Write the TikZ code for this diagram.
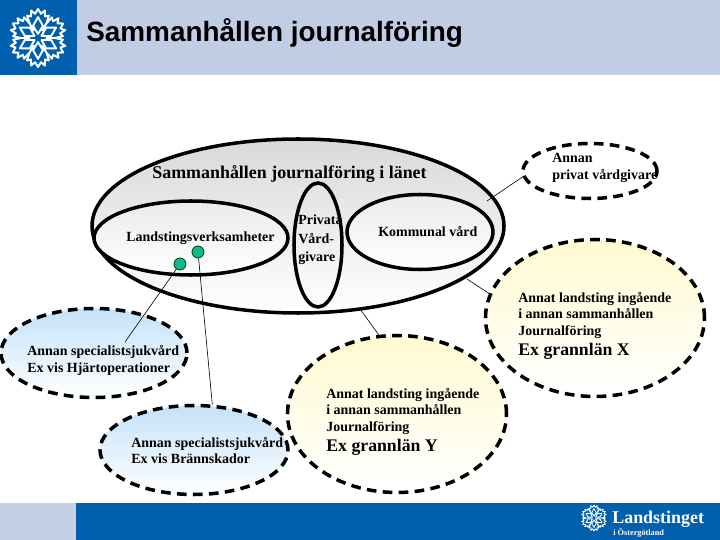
\documentclass[tikz,border=0pt]{standalone}
\usepackage{fontspec}
\setmainfont{Liberation Serif}
\newfontfamily\titlefont{Liberation Sans}
\usetikzlibrary{shapes.geometric}

\definecolor{lstblue}{HTML}{0060AE}
\definecolor{lstband}{HTML}{C0CDE4}
\definecolor{lstpale}{HTML}{C4D0E6}
\definecolor{lstgreen}{HTML}{10B88C}
\definecolor{lstsky}{HTML}{C4E2F9}
\definecolor{lstcream}{HTML}{FFFAD0}

\tikzset{
    solidring/.style={ellipse, draw=black, line width=2pt, inner sep=0pt},
    dashring/.style={ellipse, draw=black, line width=2pt, dash pattern=on 5.5pt off 3.6pt, inner sep=0pt},
    bluering/.style={dashring, top color=lstsky, bottom color=white},
    yellowring/.style={dashring, top color=lstcream, bottom color=white},
    label/.style={inner sep=0pt, font=\fontsize{7.95}{9.4}\selectfont\bfseries, align=left, anchor=north west},
    wire/.style={draw=black, line width=0.35pt},
    dot/.style={circle, draw=black!70!green, line width=0.5pt, fill=lstgreen, minimum size=6.8pt, inner sep=0pt},
    pics/rosette/.style={code={
        \foreach \ang in {30,90,...,330} {
            \begin{scope}[rotate=\ang]
                \draw[white, line width=#1, line join=round]
                    (0.14,0) -- (0.42,0.17) -- (0.72,0) -- (0.42,-0.17) -- cycle;
                \draw[white, line width=#1, line join=round]
                    (30:0.28) -- (30:0.58) -- (26:0.86) -- (18:0.78) -- (14:0.98) -- (7:0.84) -- (0:1)
                    -- (-7:0.84) -- (-14:0.98) -- (-18:0.78) -- (-26:0.86) -- (-30:0.58);
            \end{scope}
        }
    }},
}

\begin{document}
\begin{tikzpicture}[x=0.02cm, y=-0.02cm]
    \useasboundingbox (0,0) rectangle (720,540);

    % Bands
    \fill[lstband] (77,0) rectangle (720,75);
    \fill[lstblue] (0,0) rectangle (77,75);
    \fill[lstpale] (0,503) rectangle (76,540);
    \fill[lstblue] (76,503) rectangle (720,540);
    \pic[scale=29] at (38,38) {rosette=1.1pt};
    \pic[scale=13] at (594,518) {rosette=0.5pt};

    % Title and logo text
    \node[inner sep=0pt, anchor=west, text=black] (title) at (86,33) {\titlefont\bfseries\fontsize{15.87}{19}\selectfont Sammanhållen journalföring};
    \node[inner sep=0pt, anchor=west, text=white] (logoname) at (612,519) {\fontsize{10.2}{12}\selectfont\bfseries Landstinget};
    \node[inner sep=0pt, anchor=west, text=white] (logosub) at (613,533) {\fontsize{4.7}{5}\selectfont\bfseries i Östergötland};

    % Draw ellipses
    \node[solidring, top color=black!15, bottom color=white, minimum width=412*0.02cm, minimum height=174*0.02cm] (lan) at (298,226) {};
    \node[solidring, top color=black!8, bottom color=white, minimum width=194*0.02cm, minimum height=74*0.02cm] (landsting) at (191,238) {};
    \node[solidring, minimum width=48*0.02cm, minimum height=124*0.02cm] (privata) at (318,245) {};
    \node[solidring, top color=black!8, bottom color=white, minimum width=146*0.02cm, minimum height=75*0.02cm] (kommunal) at (420,232) {};
    \node[dashring, fill=white, minimum width=134*0.02cm, minimum height=55*0.02cm] (annanpriv) at (590,171) {};
    \node[yellowring, minimum width=219*0.02cm, minimum height=157*0.02cm] (granx) at (595,318) {};
    \node[yellowring, minimum width=219*0.02cm, minimum height=157*0.02cm] (grany) at (397,414) {};
    \node[bluering, minimum width=186*0.02cm, minimum height=89*0.02cm] (hjart) at (94,353) {};
    \node[bluering, minimum width=188*0.02cm, minimum height=89*0.02cm] (brann) at (194,450) {};

    % Draw dots
    \node[dot] (dota) at (180,264) {};
    \node[dot] (dotb) at (198,252) {};

    % Draw connections
    \coordinate (hjartend) at (125,342);
    \coordinate (lanne) at (487,201);
    \coordinate (lanse) at (467,279);
    \coordinate (lans) at (360,309);
    \draw[wire] (dota) -- (hjartend);
    \draw[wire] (dotb) -- (brann.68);
    \draw[wire] (lanne) -- (annanpriv.185);
    \draw[wire] (lanse) -- (granx.167);
    \draw[wire] (lans) -- (grany.103);

    % Labels
    \node[label, font=\fontsize{10.2}{12}\selectfont\bfseries, anchor=west] (lantext) at (152,174) {Sammanhållen journalföring i länet};
    \node[label, anchor=west] (landstingtext) at (126,238.5) {Landstingsverksamheter};
    \node[label, font=\fontsize{7.95}{10.8}\selectfont\bfseries] (privatatext) at (298,214) {Privata\\Vård-\\givare};
    \node[label, anchor=west] (kommunaltext) at (378,232) {Kommunal vård};
    \node[label, font=\fontsize{7.95}{9.6}\selectfont\bfseries] (annanprivtext) at (552,153) {Annan\\privat vårdgivare};
    \node[label] (granxtext) at (518,292) {Annat landsting ingående\\i annan sammanhållen\\Journalföring};
    \node[label, font=\fontsize{10.1}{12}\selectfont\bfseries, anchor=west] (granxbig) at (518,351) {Ex grannlän X};
    \node[label] (granytext) at (326,388) {Annat landsting ingående\\i annan sammanhållen\\Journalföring};
    \node[label, font=\fontsize{10.1}{12}\selectfont\bfseries, anchor=west] (granybig) at (326,447) {Ex grannlän Y};
    \node[label] (hjarttext) at (27,345.5) {Annan specialistsjukvård\\Ex vis Hjärtoperationer};
    \node[label] (branntext) at (131,437) {Annan specialistsjukvård\\Ex vis Brännskador};
\end{tikzpicture}
\end{document}
